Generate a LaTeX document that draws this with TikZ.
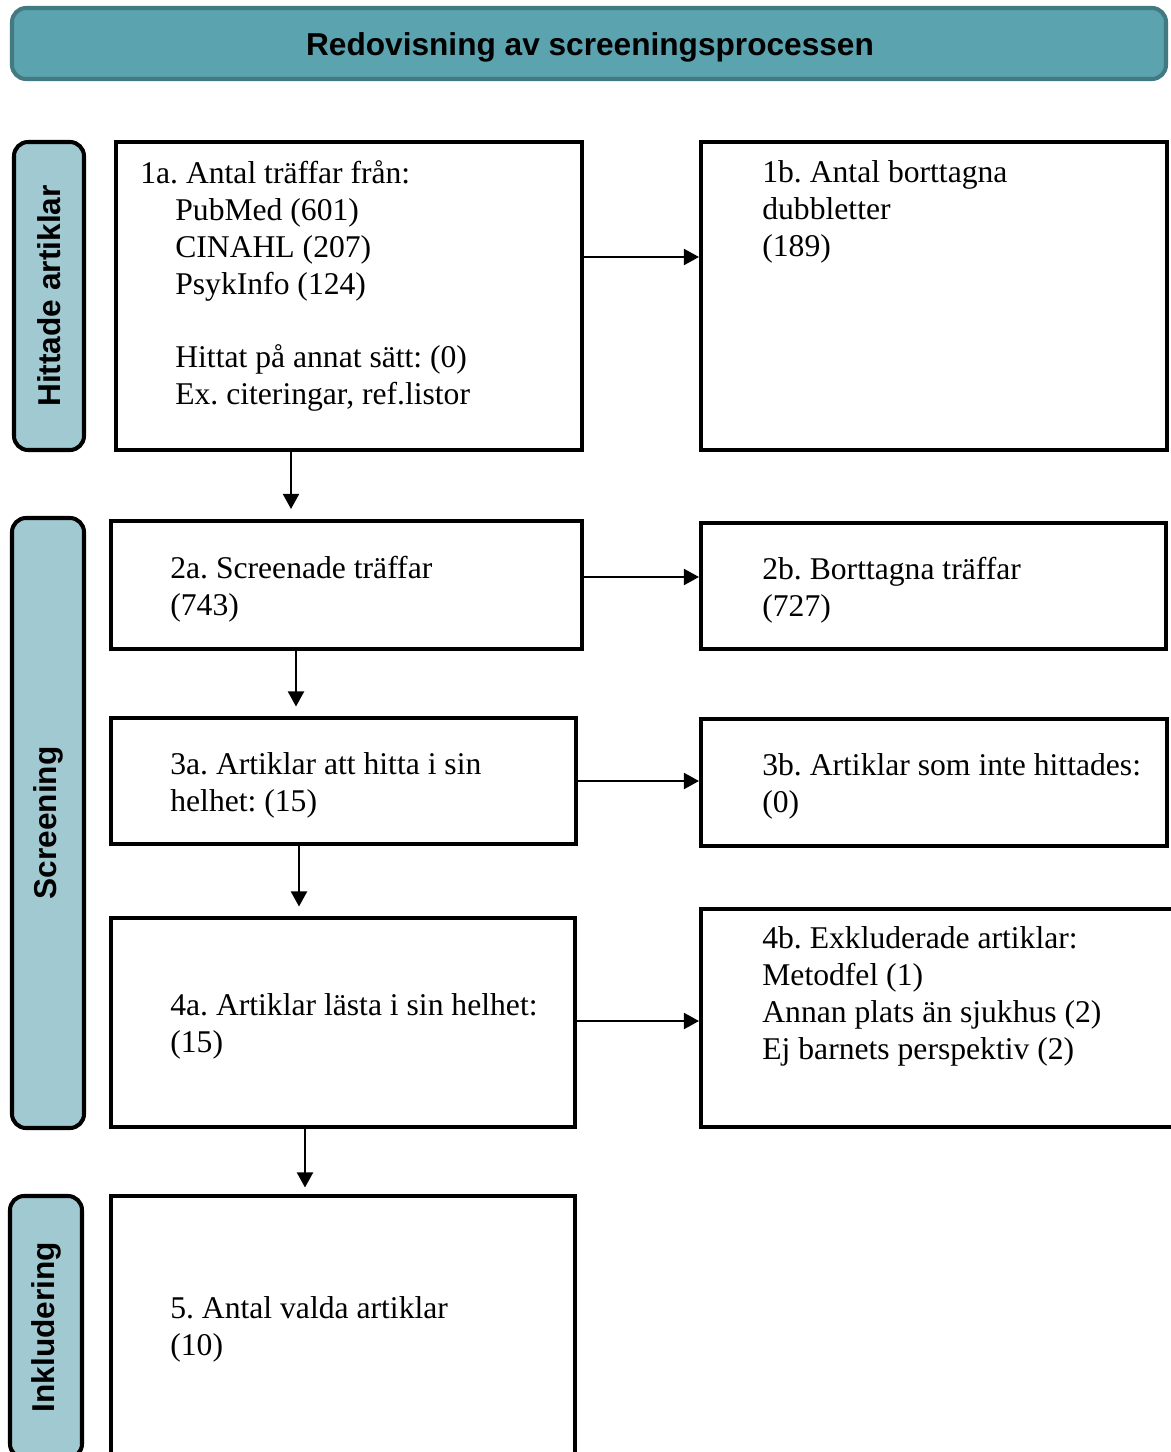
\documentclass[tikz,border=0pt]{standalone}
\usepackage{fontspec}
\setmainfont{Liberation Serif}
\setsansfont{Liberation Sans}
\usepackage{tikz}
\usetikzlibrary{arrows.meta, positioning, calc}
\definecolor{titlefill}{HTML}{5BA3AF}
\definecolor{titleline}{HTML}{437A82}
\definecolor{sidefill}{HTML}{A0C9D1}
\frenchspacing

\begin{document}
\begin{tikzpicture}[
  hdr/.style={rectangle, draw=titleline, fill=titlefill, line width=2.3pt, rounded corners=8pt, minimum width=23.08cm, minimum height=1.42cm, font=\fontsize{18}{21}\selectfont\sffamily\bfseries},
  side/.style={rectangle, draw=black, fill=sidefill, line width=2.3pt, rounded corners=8pt, font=\fontsize{18}{21}\selectfont\sffamily\bfseries},
  box/.style={rectangle, draw=black, line width=2.3pt, fill=white},
  txt/.style={anchor=west, inner sep=0pt, align=left, font=\fontsize{18}{21}\selectfont},
  arr/.style={-{Triangle[length=0.3cm, width=0.32cm]}, line width=1.1pt},
]
\useasboundingbox (0,0) rectangle (23.4,-29.04);

\node[hdr] (title) at (11.78,-0.87) {};
\node[font=\fontsize{18}{21}\selectfont\sffamily\bfseries] (ttl) at (11.8,-0.95) {Redovisning av screeningsprocessen};

% side labels
\node[side, minimum width=1.4cm, minimum height=6.16cm] (s1) at (0.98,-5.92) {};
\node[rotate=90, font=\fontsize{18}{21}\selectfont\sffamily\bfseries] (l1) at (s1) {Hittade artiklar};
\node[side, minimum width=1.44cm, minimum height=12.2cm] (s2) at (0.96,-16.46) {};
\node[rotate=90, font=\fontsize{18}{21}\selectfont\sffamily\bfseries] (l2) at (s2) {Screening};
\node[side, minimum width=1.44cm, minimum height=5.24cm] (s3) at (0.92,-26.54) {};
\node[rotate=90, font=\fontsize{18}{21}\selectfont\sffamily\bfseries] (l3) at (s3) {Inkludering};

% boxes
\node[box, minimum width=9.32cm, minimum height=6.16cm] (b1a) at (6.98,-5.92) {};
\node[box, minimum width=9.32cm, minimum height=6.16cm] (b1b) at (18.68,-5.92) {};
\node[box, minimum width=9.42cm, minimum height=2.56cm] (b2a) at (6.93,-11.7) {};
\node[box, minimum width=9.3cm, minimum height=2.52cm] (b2b) at (18.67,-11.72) {};
\node[box, minimum width=9.3cm, minimum height=2.52cm] (b3a) at (6.87,-15.62) {};
\node[box, minimum width=9.32cm, minimum height=2.54cm] (b3b) at (18.68,-15.65) {};
\node[box, minimum width=9.28cm, minimum height=4.18cm] (b4a) at (6.86,-20.45) {};
\node[box, minimum width=9.68cm, minimum height=4.36cm] (b4b) at (18.86,-20.36) {};
\node[box, minimum width=9.28cm, minimum height=5.24cm] (b5) at (6.86,-26.54) {};

% texts
\node[txt] (t1a) at (2.8,-5.72) {1a. Antal träffar från:\\
  \hspace*{0.7cm}PubMed (601)\\
  \hspace*{0.7cm}CINAHL (207)\\
  \hspace*{0.7cm}PsykInfo (124)\\[21pt]
  \hspace*{0.7cm}Hittat på annat sätt: (0)\\
  \hspace*{0.7cm}Ex. citeringar, ref.listor};
\node[txt] (t1b) at (15.24,-4.23) {1b. Antal borttagna\\dubbletter\\(189)};
\node[txt] (t2a) at (3.4,-11.78) {2a. Screenade träffar\\(743)};
\node[txt] (t2b) at (15.24,-11.8) {2b. Borttagna träffar\\(727)};
\node[txt] (t3a) at (3.4,-15.7) {3a. Artiklar att hitta i sin\\helhet: (15)};
\node[txt] (t3b) at (15.24,-15.72) {3b. Artiklar som inte hittades:\\(0)};
\node[txt] (t4a) at (3.4,-20.52) {4a. Artiklar lästa i sin helhet:\\(15)};
\node[txt] (t4b) at (15.24,-19.93) {4b. Exkluderade artiklar:\\Metodfel (1)\\Annan plats än sjukhus (2)\\Ej barnets perspektiv (2)};
\node[txt] (t5) at (3.4,-26.58) {5. Antal valda artiklar\\(10)};

% arrows
\draw[arr] ([yshift=0.78cm]b1a.east) -- ([yshift=0.78cm]b1a.east -| b1b.west);
\draw[arr] ([yshift=0.16cm]b2a.east) -- ([yshift=0.16cm]b2a.east -| b2b.west);
\draw[arr] (b3a.east) -- (b3a.east -| b3b.west);
\draw[arr] ([yshift=0.03cm]b4a.east) -- ([yshift=0.03cm]b4a.east -| b4b.west);
\draw[arr, shorten >=0.2cm] ([xshift=-1.16cm]b1a.south) -- ([xshift=-1.16cm]b1a.south |- b2a.north);
\draw[arr, shorten >=0.19cm] ([xshift=-1.01cm]b2a.south) -- ([xshift=-1.01cm]b2a.south |- b3a.north);
\draw[arr, shorten >=0.19cm] ([xshift=-0.89cm]b3a.south) -- ([xshift=-0.89cm]b3a.south |- b4a.north);
\draw[arr, shorten >=0.13cm] ([xshift=-0.76cm]b4a.south) -- ([xshift=-0.76cm]b4a.south |- b5.north);
\end{tikzpicture}
\end{document}
